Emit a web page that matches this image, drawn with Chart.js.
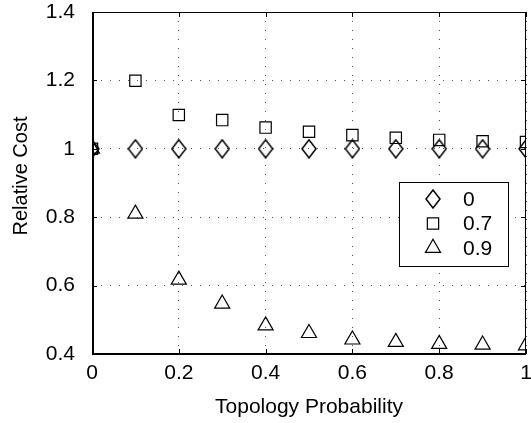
<!DOCTYPE html>
<html><head><meta charset="utf-8">
<script src="https://cdn.jsdelivr.net/npm/chart.js@4/dist/chart.umd.min.js"></script>
<style>html,body{margin:0;padding:0;background:#fff}#wrap{width:531px;height:423px;position:relative}canvas{display:block}</style>
</head><body><div id="wrap"><canvas id="c" width="531" height="423" style="width:531px;height:423px"></canvas></div>
<script>
// ---- data ----
const xValues   = [0, 0.1, 0.2, 0.3, 0.4, 0.5, 0.6, 0.7, 0.8, 0.9, 1.0];
const series0   = [1.0, 1.0, 1.0, 1.0, 1.0, 1.0, 1.0, 1.0, 1.0, 1.0, 1.0];
const series07  = [1.0, 1.199, 1.099, 1.084, 1.062, 1.050, 1.040, 1.032, 1.026, 1.022, 1.020];
const series09  = [1.0, 0.810, 0.617, 0.547, 0.483, 0.461, 0.442, 0.435, 0.429, 0.427, 0.425];
const seriesNames = ['0', '0.7', '0.9'];
const xTicks = [0, 0.2, 0.4, 0.6, 0.8, 1];
const yTicks = [0.4, 0.6, 0.8, 1, 1.2, 1.4];
const xTitle = 'Topology Probability';
const yTitle = 'Relative Cost';

// ---- marker images / styles ----
function makeDiamond(w, h, lw) {
  const c = document.createElement('canvas');
  c.width = w + 2; c.height = h + 2;
  const g = c.getContext('2d');
  g.strokeStyle = '#000'; g.lineWidth = lw;
  g.beginPath();
  g.moveTo(c.width / 2, 1);
  g.lineTo(c.width - 1, c.height / 2);
  g.lineTo(c.width / 2, c.height - 1);
  g.lineTo(1, c.height / 2);
  g.closePath(); g.stroke();
  return c;
}
const diamondImg = makeDiamond(14, 18, 1.5);

const pts = (ys) => xValues.map((x, i) => ({x: x, y: ys[i]}));
const FONT = "'Liberation Sans', Arial, Helvetica, sans-serif";

function drawFrame(chart) {
  const ctx = chart.ctx;
  const xs = chart.scales.x, ys = chart.scales.y;
  const L = Math.round(xs.getPixelForValue(0)), R = Math.round(xs.getPixelForValue(1));
  const T = Math.round(ys.getPixelForValue(1.4)), B = Math.round(ys.getPixelForValue(0.4));
  ctx.save();
  ctx.setLineDash([]);
  ctx.strokeStyle = '#000';
  ctx.lineWidth = 1;
  ctx.beginPath();
  xTicks.forEach(v => {
    const px = Math.round(xs.getPixelForValue(v)) + 0.5;
    ctx.moveTo(px, B); ctx.lineTo(px, B - 5);
    ctx.moveTo(px, T); ctx.lineTo(px, T + 5);
  });
  yTicks.forEach(v => {
    const py = Math.round(ys.getPixelForValue(v)) + 0.5;
    ctx.moveTo(L, py); ctx.lineTo(L + 5, py);
    ctx.moveTo(R, py); ctx.lineTo(R - 5, py);
  });
  ctx.moveTo(L, T + 0.5); ctx.lineTo(R, T + 0.5);
  ctx.moveTo(R - 0.5, T); ctx.lineTo(R - 0.5, B);
  ctx.stroke();
  ctx.lineWidth = 2;
  ctx.beginPath();
  ctx.moveTo(L + 1, T); ctx.lineTo(L + 1, B + 1);
  ctx.moveTo(L, B); ctx.lineTo(R, B);
  ctx.stroke();
  ctx.restore();
}

const frameAndLegend = {
  id: 'frameAndLegend',
  afterDraw(chart) {
    drawFrame(chart);
    const ctx = chart.ctx;
    const a = chart.chartArea;
    ctx.save();
    // y axis title
    ctx.save();
    ctx.translate(21, (a.top + a.bottom) / 2 - 7);
    ctx.rotate(-Math.PI / 2);
    ctx.font = '20px ' + FONT;
    ctx.fillStyle = '#000';
    ctx.textAlign = 'center';
    ctx.textBaseline = 'middle';
    ctx.fillText(yTitle, 0, 0);
    ctx.restore();
    // legend
    const bx = 399.5, by = 182.5, bw = 109, bh = 84;
    ctx.fillStyle = '#fff';
    ctx.fillRect(bx, by, bw, bh);
    ctx.strokeStyle = '#000'; ctx.lineWidth = 1;
    ctx.strokeRect(bx, by, bw, bh);
    const rows = [199, 223.5, 248];
    const mx = 433;
    ctx.font = '21px ' + FONT;
    ctx.fillStyle = '#000';
    ctx.textBaseline = 'middle';
    ctx.textAlign = 'left';
    chart.data.datasets.forEach((ds, i) => {
      const y = rows[i];
      ctx.strokeStyle = '#000'; ctx.lineWidth = 1.2;
      if (ds.pointStyle === diamondImg) {
        ctx.drawImage(diamondImg, mx - diamondImg.width / 2, y - diamondImg.height / 2);
      } else if (ds.pointStyle === 'rect') {
        const s = Math.SQRT1_2 * ds.pointRadius;
        ctx.strokeRect(mx - s, y - s, 2 * s, 2 * s);
      } else {
        const r = ds.pointRadius;
        ctx.beginPath();
        ctx.moveTo(mx, y - r);
        ctx.lineTo(mx + r * Math.sin(2 * Math.PI / 3), y - r * Math.cos(2 * Math.PI / 3));
        ctx.lineTo(mx + r * Math.sin(4 * Math.PI / 3), y - r * Math.cos(4 * Math.PI / 3));
        ctx.closePath(); ctx.stroke();
      }
      ctx.fillText(seriesNames[i], 463, y + 1);
    });
    ctx.restore();
  }
};

const gridCommon = {color: '#555', lineWidth: 1, drawTicks: false};
function zeroPad(s) { s.paddingTop = 0; s.paddingBottom = 0; s.paddingLeft = 0; s.paddingRight = 0; }

new Chart(document.getElementById('c'), {
  type: 'scatter',
  data: {
    datasets: [
      {label: seriesNames[0], data: pts(series0), pointStyle: diamondImg, pointRadius: 9,
       borderColor: '#000', backgroundColor: 'rgba(0,0,0,0)', showLine: false},
      {label: seriesNames[1], data: pts(series07), pointStyle: 'rect', pointRadius: 8, pointBorderWidth: 1.2,
       borderColor: '#000', backgroundColor: 'rgba(0,0,0,0)', showLine: false},
      {label: seriesNames[2], data: pts(series09), pointStyle: 'triangle', pointRadius: 8.7, pointBorderWidth: 1.2,
       borderColor: '#000', backgroundColor: 'rgba(0,0,0,0)', showLine: false}
    ]
  },
  options: {
    responsive: false,
    animation: false,
    devicePixelRatio: 1,
    layout: {autoPadding: false, padding: {top: 12, right: 5, left: 0, bottom: 0}},
    plugins: {legend: {display: false}, tooltip: {enabled: false}},
    scales: {
      x: {
        type: 'linear', min: 0, max: 1,
        afterBuildTicks: s => { s.ticks = xTicks.map(v => ({value: v})); },
        afterFit: s => { s.height = 69; zeroPad(s); },
        grid: gridCommon,
        border: {display: false, dash: [1, 8]},
        ticks: {color: '#000', padding: 7, maxRotation: 0, font: {family: FONT, size: 21},
                callback: v => String(v)},
        title: {display: true, text: xTitle, color: '#000', padding: {top: 0, bottom: 3},
                font: {family: FONT, size: 21}}
      },
      y: {
        type: 'linear', min: 0.4, max: 1.4,
        afterBuildTicks: s => { s.ticks = yTicks.map(v => ({value: v})); },
        afterFit: s => { s.width = 92; zeroPad(s); },
        grid: gridCommon,
        border: {display: false, dash: [1, 8]},
        ticks: {color: '#000', padding: 17, font: {family: FONT, size: 21},
                callback: v => String(v)},
        title: {display: false}
      }
    }
  },
  plugins: [frameAndLegend]
});
</script>
</body></html>
